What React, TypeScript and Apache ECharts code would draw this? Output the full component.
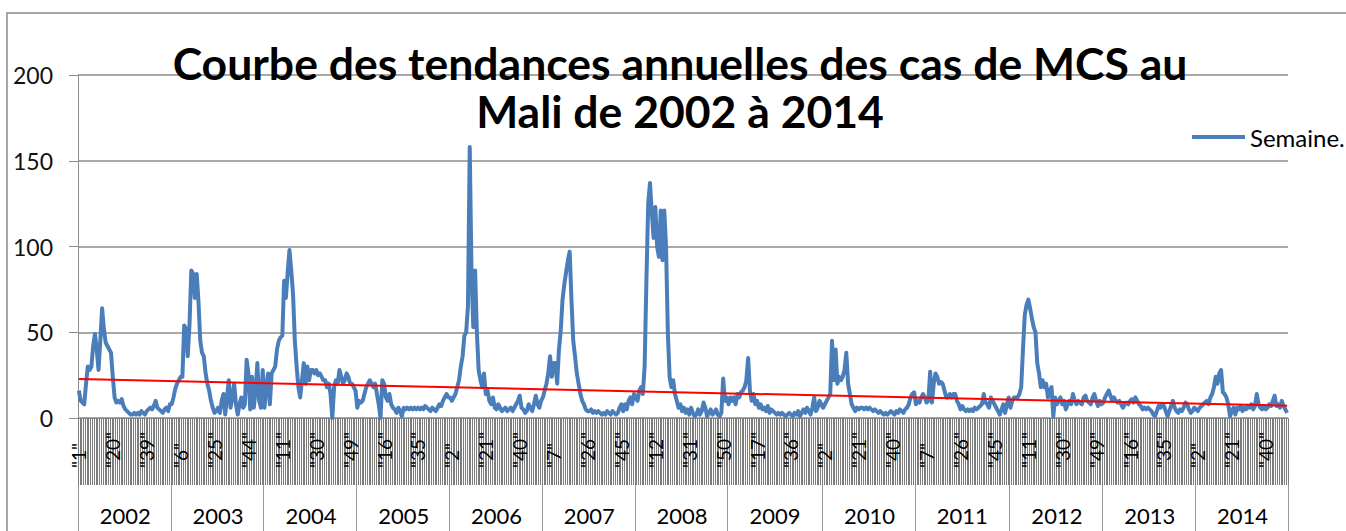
import React, { useEffect, useRef } from "react";
import * as echarts from "echarts";

const years = ["2002", "2003", "2004", "2005", "2006", "2007", "2008", "2009", "2010", "2011", "2012", "2013", "2014"];

const cases2002 = [16, 10, 9, 8, 20, 30, 28, 30, 42, 49, 40, 28, 45, 64, 52, 44, 42, 40, 38, 24, 12, 9, 10, 9, 11, 7, 5, 4, 3, 2, 2, 3, 2, 3, 2, 4, 3, 2, 4, 5, 6, 5, 7, 10, 6, 5, 4, 3, 5, 6, 4, 8];
const cases2003 = [8, 12, 17, 20, 22, 24, 24, 54, 52, 36, 55, 86, 84, 70, 84, 68, 45, 38, 36, 26, 20, 16, 10, 6, 3, 4, 6, 3, 10, 14, 2, 12, 22, 6, 12, 20, 8, 2, 8, 12, 6, 8, 34, 26, 5, 24, 6, 16, 32, 10, 6, 28];
const cases2004 = [6, 18, 26, 8, 26, 28, 30, 40, 45, 47, 48, 80, 70, 85, 98, 86, 72, 45, 30, 18, 12, 22, 32, 20, 30, 22, 28, 28, 26, 28, 25, 26, 24, 22, 22, 18, 20, 14, 0, 18, 22, 20, 28, 24, 20, 22, 26, 24, 20, 20, 18, 16];
const cases2005 = [6, 10, 9, 10, 14, 18, 20, 22, 20, 18, 20, 14, 8, 0, 22, 20, 12, 10, 14, 8, 6, 5, 3, 6, 4, 1, 6, 5, 6, 5, 6, 5, 6, 5, 6, 5, 6, 5, 7, 6, 5, 4, 6, 5, 4, 6, 8, 7, 10, 12, 14, 12];
const cases2006 = [12, 10, 12, 14, 18, 22, 30, 36, 48, 50, 65, 158, 84, 53, 86, 50, 28, 22, 18, 26, 14, 16, 10, 8, 12, 6, 5, 8, 6, 4, 5, 6, 4, 5, 6, 4, 6, 8, 10, 13, 6, 5, 3, 4, 8, 6, 4, 8, 13, 8, 6, 10];
const cases2007 = [12, 16, 20, 26, 36, 24, 32, 32, 20, 40, 51, 69, 78, 85, 92, 97, 69, 45, 36, 26, 20, 14, 10, 8, 5, 4, 4, 5, 3, 4, 3, 4, 3, 2, 3, 2, 4, 3, 2, 4, 3, 2, 3, 6, 8, 4, 8, 5, 10, 12, 8, 14];
const cases2008 = [12, 10, 16, 18, 14, 30, 80, 125, 137, 120, 105, 123, 100, 94, 121, 92, 121, 100, 50, 24, 18, 22, 14, 10, 6, 8, 4, 6, 3, 5, 2, 6, 3, 1, 2, 5, 2, 4, 9, 6, 1, 3, 5, 2, 3, 5, 2, 1, 3, 23, 10, 12];
const cases2009 = [8, 12, 10, 12, 8, 14, 12, 15, 16, 18, 22, 35, 16, 10, 14, 8, 10, 6, 8, 5, 6, 4, 7, 3, 5, 4, 3, 2, 3, 2, 3, 2, 1, 2, 3, 2, 1, 3, 2, 4, 1, 3, 5, 3, 6, 4, 2, 6, 12, 4, 6, 10, 8];
const cases2010 = [6, 8, 10, 12, 14, 45, 22, 40, 20, 24, 22, 24, 28, 38, 20, 14, 8, 6, 4, 6, 5, 6, 6, 5, 6, 5, 6, 5, 4, 5, 4, 3, 4, 3, 2, 3, 2, 3, 4, 3, 2, 4, 3, 5, 4, 3, 5, 6, 8, 12, 14, 15];
const cases2011 = [8, 10, 9, 12, 14, 12, 9, 10, 27, 9, 20, 26, 24, 20, 21, 20, 16, 12, 12, 14, 12, 14, 14, 10, 8, 5, 7, 5, 4, 5, 4, 5, 4, 6, 5, 6, 7, 8, 14, 9, 8, 6, 12, 10, 8, 6, 4, 2, 5, 8, 3, 8, 12];
const cases2012 = [6, 10, 12, 12, 12, 14, 18, 40, 60, 66, 69, 64, 58, 53, 50, 32, 26, 18, 22, 18, 20, 12, 16, 18, 1, 12, 8, 10, 12, 8, 10, 5, 8, 10, 8, 14, 10, 8, 10, 9, 8, 12, 13, 10, 9, 8, 12, 14, 10, 7, 10, 8];
const cases2013 = [9, 12, 14, 16, 13, 10, 12, 10, 9, 10, 8, 6, 8, 9, 8, 10, 11, 9, 12, 10, 8, 7, 5, 6, 5, 6, 5, 4, 2, 1, 4, 7, 6, 8, 7, 4, 1, 4, 7, 10, 6, 4, 3, 5, 4, 6, 9, 8, 5, 3, 4, 6];
const cases2014 = [5, 4, 6, 7, 8, 9, 10, 8, 12, 14, 18, 24, 20, 26, 28, 15, 14, 12, 8, 1, 4, 6, 2, 6, 5, 7, 4, 6, 5, 7, 6, 8, 5, 7, 14, 8, 6, 5, 7, 5, 6, 8, 7, 10, 13, 7, 8, 6, 10, 7, 5, 3];

const yearlyCases = [cases2002, cases2003, cases2004, cases2005, cases2006, cases2007, cases2008, cases2009, cases2010, cases2011, cases2012, cases2013, cases2014];

// linear trend line: value at the first week and at the last week
const trendValues = [22.7, 7.2];

const yTicks = [0, 50, 100, 150, 200];
const weekLabelStep = 19;
const titleLines = ["Courbe des tendances annuelles des cas de MCS au", "Mali de 2002 à 2014"];
const seriesName = "Semaine.";
const trendName = "Tendance linéaire";

export default function App() {
  const ref = useRef<HTMLDivElement>(null);

  useEffect(() => {
    if (!ref.current) return;
    const chart = echarts.init(ref.current, undefined, { renderer: "svg" });

    const weekLabels: string[] = [];
    const yearOfWeek: string[] = [];
    const cases: number[] = [];
    const yearStart = new Set<number>();
    const yearMid = new Set<number>();
    yearlyCases.forEach((arr, yi) => {
      yearStart.add(cases.length);
      yearMid.add(cases.length + Math.floor(arr.length / 2));
      arr.forEach((v, wi) => {
        weekLabels.push(String(wi + 1));
        yearOfWeek.push(years[yi]);
        cases.push(v);
      });
    });

    const lastIndex = cases.length - 1;
    const trend = [
      [0, trendValues[0]],
      [lastIndex, trendValues[1]],
    ];

    const font = "Lato";
    const titleStyle = (text: string) => ({
      text,
      font: `bold 44.5px ${font}`,
      fill: "#000",
      align: "center",
      verticalAlign: "middle",
      textAlign: "center",
      textVerticalAlign: "middle",
    });

    const option = {
      animation: false,
      backgroundColor: "#ffffff",
      grid: { left: 78, right: 58, top: 75, bottom: 113, containLabel: false },
      legend: {
        data: [seriesName],
        left: 1192,
        top: 125,
        padding: 0,
        icon: "rect",
        itemWidth: 53,
        itemHeight: 4,
        selectedMode: false,
        textStyle: { fontFamily: font, fontSize: 24, color: "#000" },
      },
      xAxis: [
        {
          type: "category",
          data: weekLabels,
          boundaryGap: true,
          axisLine: { show: true, lineStyle: { color: "#8c8c8c", width: 1 } },
          axisTick: { show: true, interval: 0, length: 67, lineStyle: { color: "#7c7c7c", width: 1 } },
          axisLabel: {
            interval: weekLabelStep - 1,
            rotate: 90,
            align: "left",
            margin: 50,
            formatter: (v: string) => `"${v}"`,
            fontFamily: font,
            fontSize: 19,
            color: "#000",
          },
          splitLine: { show: false },
        },
        {
          type: "category",
          data: yearOfWeek,
          position: "bottom",
          offset: 67,
          boundaryGap: true,
          axisLine: { show: false },
          axisTick: {
            show: true,
            interval: (i: number) => yearStart.has(i),
            length: 60,
            lineStyle: { color: "#9a9a9a", width: 1 },
          },
          axisLabel: {
            interval: (i: number) => yearMid.has(i),
            margin: 19,
            fontFamily: font,
            fontSize: 22,
            color: "#000",
          },
          splitLine: { show: false },
        },
      ],
      yAxis: {
        type: "value",
        min: yTicks[0],
        max: yTicks[yTicks.length - 1],
        interval: yTicks[1] - yTicks[0],
        axisLine: { show: true, lineStyle: { color: "#8c8c8c", width: 1 } },
        axisTick: { show: true, length: 9, lineStyle: { color: "#8c8c8c" } },
        splitLine: { show: true, lineStyle: { color: "#8c8c8c", width: 1.5 } },
        axisLabel: { margin: 25, fontFamily: font, fontSize: 23, color: "#111" },
      },
      series: [
        {
          name: seriesName,
          type: "line",
          data: cases,
          symbol: "none",
          lineStyle: { color: "#4a7ebb", width: 4, join: "round" },
          itemStyle: { color: "#4a7ebb" },
          z: 3,
        },
        {
          name: trendName,
          type: "line",
          data: trend,
          symbol: "none",
          silent: true,
          lineStyle: { color: "#ff0000", width: 2 },
          itemStyle: { color: "#ff0000" },
          z: 4,
        },
      ],
      graphic: [
        {
          type: "rect",
          shape: { x: 7, y: 13, width: 1600, height: 700 },
          style: { fill: "none", stroke: "#8a8a8a", lineWidth: 1.5 },
          silent: true,
          z: -1,
        },
        { type: "text", x: 680, y: 62, style: titleStyle(titleLines[0]), z: 10 },
        { type: "text", x: 680, y: 110, style: titleStyle(titleLines[1]), z: 10 },
      ],
    };

    chart.setOption(option as any);
    return () => chart.dispose();
  }, []);

  return (
    <div
      ref={ref}
      style={{ position: "absolute", left: 0, top: 0, width: 1346, height: 531, overflow: "hidden" }}
    />
  );
}
